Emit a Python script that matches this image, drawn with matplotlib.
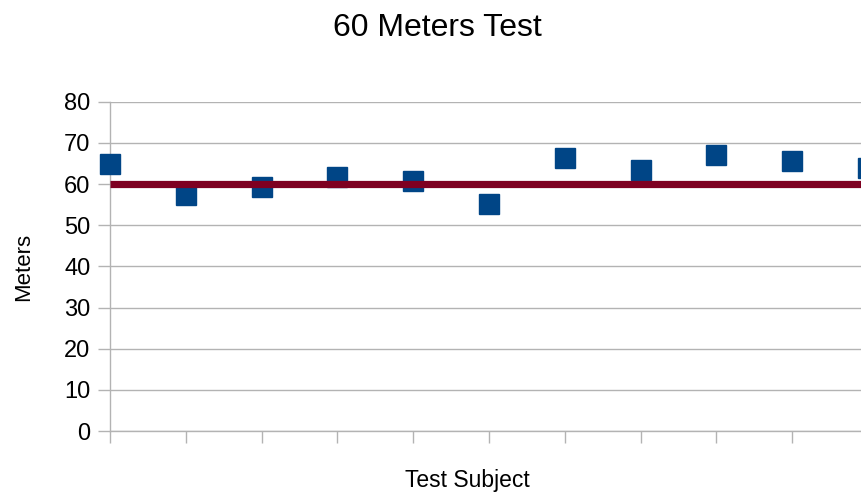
import matplotlib
matplotlib.use("Agg")
import matplotlib.pyplot as plt

plt.rcParams['font.family'] = ['Liberation Sans', 'DejaVu Sans']

subjects = list(range(1, 12))
distances = [64.8, 57.4, 59.3, 61.8, 60.8, 55.2, 66.4, 63.5, 67.1, 65.5, 63.8]
target = 60
yticks = [0, 10, 20, 30, 40, 50, 60, 70, 80]

W, H = 861, 495
fig = plt.figure(figsize=(W / 100, H / 100), dpi=100)
ax = fig.add_axes([110 / W, (H - 431.0) / H, 1 - 110 / W, (431.0 - 101.7) / H])

grid_col = '#b3b3b3'
ax.plot(subjects, distances, linestyle='none', marker='s', markersize=14.2,
        color='#004586', markeredgecolor='#004586', zorder=3, clip_on=False)
ax.plot(subjects, [target] * len(subjects), color='#7e0021', linewidth=5.2,
        solid_capstyle='butt', zorder=4)

ax.set_yticks(yticks)
ax.set_xticks(subjects)
ax.set_xticklabels([])
ax.set_xlim(1, 1 + (W - 110) / 75.8)
ax.set_ylim(0, 80)
ax.yaxis.grid(True, color=grid_col, linewidth=1)
ax.set_axisbelow(True)
for s in ['top', 'right']:
    ax.spines[s].set_visible(False)
for s in ['left', 'bottom']:
    ax.spines[s].set_color(grid_col)
    ax.spines[s].set_linewidth(1)
ax.tick_params(axis='both', colors=grid_col, length=8.4, width=1,
               labelcolor='black', labelsize=17)
ax.tick_params(axis='y', pad=5.8)

fig.text(437 / W, 1 - 36 / H, '60 Meters Test', ha='center', va='baseline', fontsize=23)
fig.text(467 / W, 1 - 487 / H, 'Test Subject', ha='center', va='baseline', fontsize=16.5)
fig.text(23.5 / W, 1 - 266.5 / H, 'Meters', ha='center', va='center', rotation=90, fontsize=16)

fig.savefig('out.png', dpi=100)
